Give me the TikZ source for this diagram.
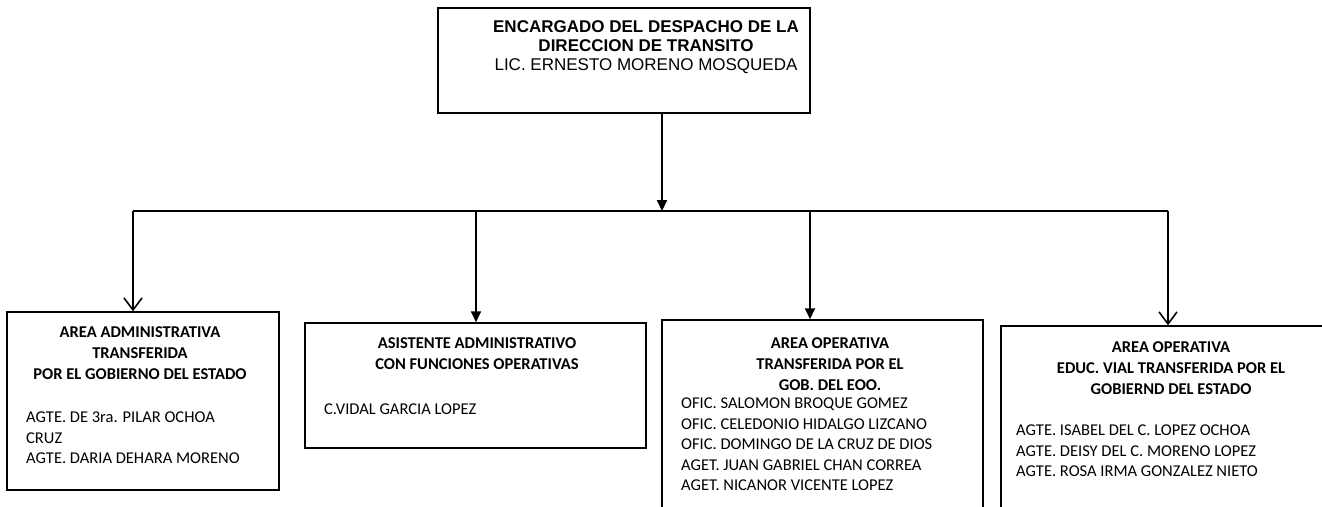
\documentclass[tikz,border=0pt]{standalone}
\usepackage{fontspec}
\setmainfont{Carlito}
\newfontfamily\arialf{Liberation Sans}
\usetikzlibrary{arrows.meta}
\begin{document}
\begin{tikzpicture}[x=1pt,y=-1pt,
  orgbox/.style={draw, line width=1.5pt, inner sep=0pt},
  conn/.style={line width=2pt},
  filledtip/.style={-{Triangle[length=11pt,width=10pt]}},
  opentip/.style={-{Straight Barb[length=12pt,width=18pt,line width=1.6pt]}},
  toptxt/.style={font=\arialf\fontsize{17}{19}\selectfont, align=center, inner sep=0pt, anchor=north},
  hdr/.style={font=\bfseries\fontsize{16.5}{20.7}\selectfont, align=center, inner sep=0pt, anchor=north},
  lst/.style={font=\fontsize{16.5}{20.5}\selectfont, align=left, inner sep=0pt, anchor=north west}]
\useasboundingbox (0,0) rectangle (1322,506);
\clip (0,0) rectangle (1322,506);
\fill[white] (0,0) rectangle (1322,506);
% boxes
\node[orgbox, minimum width=372pt, minimum height=105pt] (top) at (624,60.5) {};
\node[orgbox, minimum width=272pt, minimum height=178pt] (box1) at (143,401) {};
\node[orgbox, minimum width=341pt, minimum height=125pt] (box2) at (475.5,385.5) {};
\node[orgbox, minimum width=321pt, minimum height=240pt] (box3) at (822.5,440) {};
\node[orgbox, minimum width=340pt, minimum height=234pt] (box4) at (1171,443) {};
% texts
\node[toptxt] (t0) at (646,20.9) {\textbf{ENCARGADO DEL DESPACHO DE LA}\\\textbf{DIRECCION DE TRANSITO}\\LIC. ERNESTO MORENO MOSQUEDA};
\node[hdr] (h1) at (140,326.7) {AREA ADMINISTRATIVA\\TRANSFERIDA\\POR EL GOBIERNO DEL ESTADO};
\node[lst] (l1) at (26,411.7) {AGTE. DE 3ra. PILAR OCHOA\\CRUZ\\AGTE. DARIA DEHARA MORENO};
\node[hdr] (h2) at (477,337.7) {ASISTENTE ADMINISTRATIVO\\CON FUNCIONES OPERATIVAS};
\node[lst] (l2) at (324,403.7) {C.VIDAL GARCIA LOPEZ};
\node[hdr] (h3) at (830,337.7) {AREA OPERATIVA\\TRANSFERIDA POR EL\\GOB. DEL EOO.};
\node[lst] (l3) at (681,397.7) {OFIC. SALOMON BROQUE GOMEZ\\OFIC. CELEDONIO HIDALGO LIZCANO\\OFIC. DOMINGO DE LA CRUZ DE DIOS\\AGET. JUAN GABRIEL CHAN CORREA\\AGET. NICANOR VICENTE LOPEZ};
\node[hdr] (h4) at (1171,341.7) {AREA OPERATIVA\\EDUC. VIAL TRANSFERIDA POR EL\\GOBIERND DEL ESTADO};
\node[lst] (l4) at (1016,424.7) {AGTE. ISABEL DEL C. LOPEZ OCHOA\\AGTE. DEISY DEL C. MORENO LOPEZ\\AGTE. ROSA IRMA GONZALEZ NIETO};
% connectors
\coordinate (bT) at (662,211);
\coordinate (b1) at (133,211);
\coordinate (b2) at (476,211);
\coordinate (b3) at (810,211);
\coordinate (b4) at (1168,211);
\draw[conn, filledtip] (top.south -| bT) -- (bT);
\draw[conn] (b1) -- (b4);
\draw[conn, opentip] (b1) -- (b1 |- box1.north);
\draw[conn, filledtip] (b2) -- (b2 |- box2.north);
\draw[conn, filledtip] (b3) -- (b3 |- box3.north);
\draw[conn, opentip] (b4) -- (b4 |- box4.north);
\end{tikzpicture}
\end{document}
